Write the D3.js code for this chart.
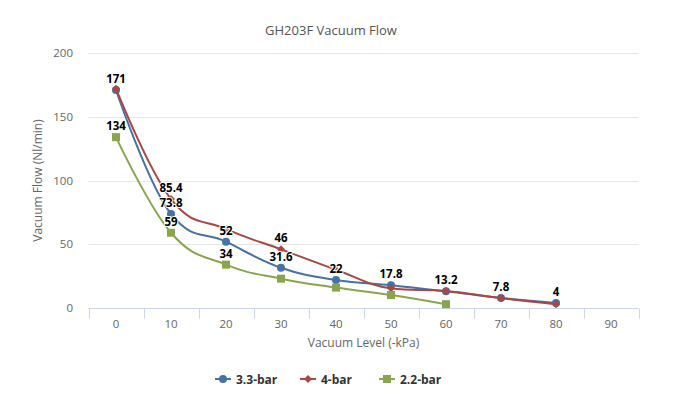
<!DOCTYPE html>
<html>
<head>
<meta charset="utf-8">
<script src="https://cdn.jsdelivr.net/npm/d3@7"></script>
<style>
  html, body { margin: 0; padding: 0; background: #fff; }
  svg { display: block; font-family: "Open Sans", "DejaVu Sans", sans-serif; }
</style>
</head>
<body>
<svg id="chart" width="681" height="404"></svg>
<script>
// ---- data ----
const categories = ["0", "10", "20", "30", "40", "50", "60", "70", "80", "90"];
const seriesNames = ["3.3-bar", "4-bar", "2.2-bar"];
const values33 = [171, 73.8, 52, 31.6, 22, 17.8, 13.2, 7.8, 4];
const values4  = [172, 85.4, 62, 46, 30, 15.4, 13.3, 7.8, 3];
const values22 = [134, 59, 34, 23, 16, 10.2, 3];
const yTicks = [0, 50, 100, 150, 200];
const titleText = "GH203F Vacuum Flow";
const xTitle = "Vacuum Level (-kPa)";
const yTitle = "Vacuum Flow (Nl/min)";

const colors = ["#4572A7", "#AA4643", "#89A54E"];
const symbols = ["circle", "diamond", "square"];
const seriesValues = [values33, values4, values22];

// ---- layout ----
const svg = d3.select("#chart");
const plot = { left: 88.5, right: 638.5, top: 53, bottom: 308 };

const x = d3.scaleBand().domain(categories).range([plot.left, plot.right]).padding(0);
const y = d3.scaleLinear().domain([0, 200]).range([plot.bottom, plot.top]);
const cx = c => x(c) + x.bandwidth() / 2;

// title
svg.append("text").attr("x", 331).attr("y", 35).attr("text-anchor", "middle")
  .attr("font-size", 13).attr("fill", "#555").text(titleText);

// gridlines
svg.append("g").selectAll("line").data(yTicks.filter(t => t !== 0)).join("line")
  .attr("x1", plot.left).attr("x2", plot.right)
  .attr("y1", d => Math.round(y(d)) + 0.5).attr("y2", d => Math.round(y(d)) + 0.5)
  .attr("stroke", "#e6e6e6").attr("stroke-width", 1);

// y tick labels
svg.append("g").selectAll("text").data(yTicks).join("text")
  .attr("x", 73).attr("y", d => y(d) + 4).attr("text-anchor", "end")
  .attr("font-size", 11.5).attr("fill", "#666").text(d => d);

// x axis
const xAxisG = svg.append("g").attr("transform", `translate(0,${plot.bottom + 0.5})`);
xAxisG.append("line").attr("x1", plot.left).attr("x2", plot.right)
  .attr("stroke", "#ccd6eb").attr("stroke-width", 1);
const boundaries = categories.map(c => x(c)).concat([plot.right]);
xAxisG.selectAll("line.tick").data(boundaries).join("line").attr("class", "tick")
  .attr("x1", d => Math.round(d) + 0.5).attr("x2", d => Math.round(d) + 0.5)
  .attr("y1", 0).attr("y2", 10).attr("stroke", "#ccd6eb");
xAxisG.selectAll("text").data(categories).join("text")
  .attr("x", d => cx(d)).attr("y", 19).attr("text-anchor", "middle")
  .attr("font-size", 11.5).attr("fill", "#666").text(d => d);

// axis titles
svg.append("text").attr("x", (plot.left + plot.right) / 2).attr("y", 347)
  .attr("text-anchor", "middle").attr("font-size", 12).attr("fill", "#666").text(xTitle);
svg.append("text").attr("transform", `translate(42,${(plot.top + plot.bottom) / 2}) rotate(-90)`)
  .attr("text-anchor", "middle").attr("font-size", 12).attr("fill", "#666").text(yTitle);

// Highcharts-like spline path
function splinePath(pts) {
  const smoothing = 1.5, denom = smoothing + 1;
  let d = "";
  let prevRight = null;
  pts.forEach((p, i) => {
    if (i === 0) { d += `M${p[0]},${p[1]}`; return; }
    const last = pts[i - 1], next = pts[i + 1];
    let lcx = p[0], lcy = p[1], rc = null;
    if (next) {
      lcx = (smoothing * p[0] + last[0]) / denom;
      lcy = (smoothing * p[1] + last[1]) / denom;
      let rcx = (smoothing * p[0] + next[0]) / denom;
      let rcy = (smoothing * p[1] + next[1]) / denom;
      let corr = 0;
      if (rcx !== lcx) corr = ((rcy - lcy) * (rcx - p[0])) / (rcx - lcx) + p[1] - rcy;
      lcy += corr; rcy += corr;
      if (lcy > last[1] && lcy > p[1]) { lcy = Math.max(last[1], p[1]); rcy = 2 * p[1] - lcy; }
      else if (lcy < last[1] && lcy < p[1]) { lcy = Math.min(last[1], p[1]); rcy = 2 * p[1] - lcy; }
      if (rcy > next[1] && rcy > p[1]) { rcy = Math.max(next[1], p[1]); lcy = 2 * p[1] - rcy; }
      else if (rcy < next[1] && rcy < p[1]) { rcy = Math.min(next[1], p[1]); lcy = 2 * p[1] - rcy; }
      rc = [rcx, rcy];
    }
    const c1 = prevRight || last;
    d += `C${c1[0]},${c1[1]},${lcx},${lcy},${p[0]},${p[1]}`;
    prevRight = rc;
  });
  return d;
}

function drawSymbol(g, type, px, py, color) {
  if (type === "circle") {
    g.append("circle").attr("cx", px).attr("cy", py).attr("r", 4).attr("fill", color);
  } else if (type === "diamond") {
    g.append("path").attr("d", `M${px},${py - 4}L${px + 4},${py}L${px},${py + 4}L${px - 4},${py}Z`).attr("fill", color);
  } else {
    g.append("rect").attr("x", px - 4).attr("y", py - 4).attr("width", 8).attr("height", 8).attr("fill", color);
  }
}

// series
seriesValues.forEach((vals, si) => {
  const g = svg.append("g");
  const pts = vals.map((v, i) => [cx(categories[i]), y(v)]);
  g.append("path").attr("d", splinePath(pts)).attr("fill", "none")
    .attr("stroke", colors[si]).attr("stroke-width", 2).attr("stroke-linejoin", "round");
  pts.forEach(p => drawSymbol(g, symbols[si], p[0], p[1], colors[si]));
});

// data labels with overlap hiding
const labelG = svg.append("g");
const kept = [];
seriesValues.forEach((vals, si) => {
  vals.forEach((v, i) => {
    const px = cx(categories[i]), py = y(v);
    const t = labelG.append("text").attr("x", px).attr("y", py - 7)
      .attr("text-anchor", "middle").attr("font-size", 11.5).attr("font-weight", "bold")
      .attr("fill", "#000").attr("stroke", "#fff").attr("stroke-width", 2)
      .attr("paint-order", "stroke").attr("stroke-linejoin", "round").text(v);
    const w = t.node().getComputedTextLength();
    const box = { x: px, y: py - 11, w: w };
    const overlap = kept.some(k => Math.abs(k.x - box.x) < (k.w + box.w) / 2 + 2 && Math.abs(k.y - box.y) < 14);
    if (overlap) t.remove(); else kept.push(box);
  });
});

// legend
const legendItems = [
  { sx: 215, tx: 236 },
  { sx: 300, tx: 321 },
  { sx: 379, tx: 400 }
];
seriesNames.forEach((name, si) => {
  const g = svg.append("g");
  const ly = 379;
  const it = legendItems[si];
  g.append("line").attr("x1", it.sx).attr("x2", it.sx + 16).attr("y1", ly).attr("y2", ly)
    .attr("stroke", colors[si]).attr("stroke-width", 2);
  drawSymbol(g, symbols[si], it.sx + 8, ly, colors[si]);
  g.append("text").attr("x", it.tx).attr("y", ly + 4.5).attr("font-size", 12)
    .attr("font-weight", "bold").attr("fill", "#333").text(name);
});
</script>
</body>
</html>
